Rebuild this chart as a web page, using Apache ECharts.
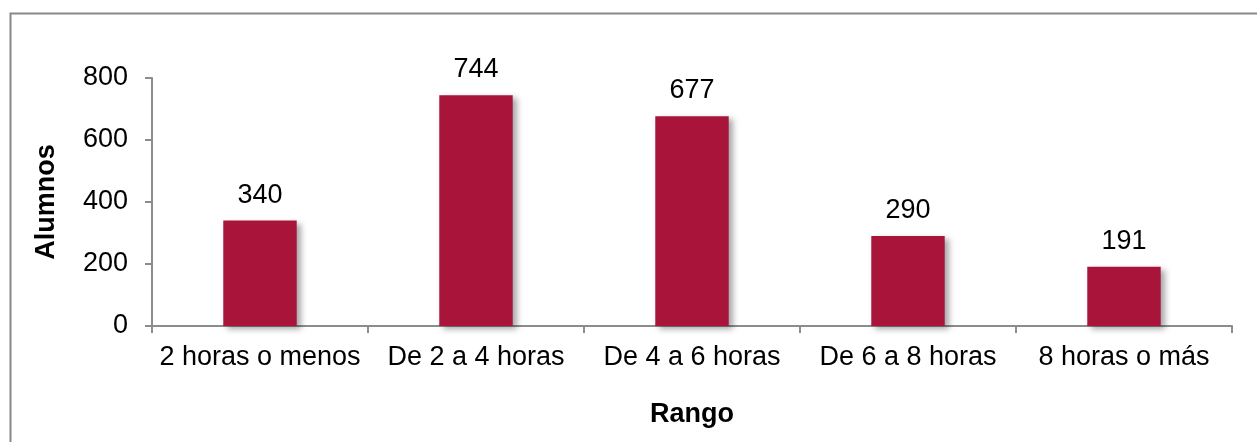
<!DOCTYPE html>
<html>
<head>
    <meta charset="utf-8">
    <title>Alumnos por rango</title>
    <script src="https://cdn.jsdelivr.net/npm/echarts@6/dist/echarts.min.js"></script>
    <style>
        html, body { margin: 0; padding: 0; background: #fff; }
        #main { width: 1257px; height: 442px; }
    </style>
</head>
<body>
    <div id="main"></div>
    <script type="text/javascript">
        const CATEGORIES = ['2 horas o menos', 'De 2 a 4 horas', 'De 4 a 6 horas', 'De 6 a 8 horas', '8 horas o más'];
        const ALUMNOS = [340, 744, 677, 290, 191];
        const Y_TICKS = [0, 200, 400, 600, 800];

        const FONT = '"Liberation Sans", Arial, sans-serif';
        const AXIS_COLOR = '#8c8c8c';

        let myChart = echarts.init(document.getElementById('main'));

        const option = {
            animation: false,
            graphic: [{
                type: 'rect',
                left: 8,
                top: 11,
                shape: { width: 1270, height: 460 },
                style: { fill: 'none', stroke: '#888', lineWidth: 2 },
                silent: true
            }],
            grid: { left: 152, right: 25, top: 78, bottom: 116 },
            xAxis: {
                type: 'category',
                data: CATEGORIES,
                name: 'Rango',
                nameLocation: 'middle',
                nameGap: 75,
                nameTextStyle: { fontFamily: FONT, fontSize: 27, fontWeight: 'bold', color: '#000' },
                axisLine: { lineStyle: { color: AXIS_COLOR, width: 2 } },
                axisTick: { show: true, length: 7, lineStyle: { color: AXIS_COLOR, width: 2 } },
                axisLabel: { interval: 0, hideOverlap: false, fontFamily: FONT, fontSize: 27, color: '#000', margin: 18 }
            },
            yAxis: {
                type: 'value',
                min: Y_TICKS[0],
                max: Y_TICKS[Y_TICKS.length - 1],
                interval: 200,
                name: 'Alumnos',
                nameLocation: 'middle',
                nameGap: 92,
                nameTextStyle: { fontFamily: FONT, fontSize: 27, fontWeight: 'bold', color: '#000' },
                axisLine: { show: true, lineStyle: { color: AXIS_COLOR, width: 2 } },
                axisTick: { show: true, length: 7, lineStyle: { color: AXIS_COLOR, width: 2 } },
                axisLabel: { fontFamily: FONT, fontSize: 27, color: '#000', margin: 24 },
                splitLine: { show: false }
            },
            series: [{
                type: 'bar',
                data: ALUMNOS,
                barWidth: '34%',
                itemStyle: {
                    color: '#a8143a',
                    shadowColor: 'rgba(0,0,0,0.35)',
                    shadowBlur: 6,
                    shadowOffsetX: 4,
                    shadowOffsetY: 3
                },
                label: {
                    show: true,
                    position: 'top',
                    distance: 12,
                    fontFamily: FONT,
                    fontSize: 27,
                    color: '#000'
                }
            }]
        };

        myChart.setOption(option);
    </script>
</body>
</html>
